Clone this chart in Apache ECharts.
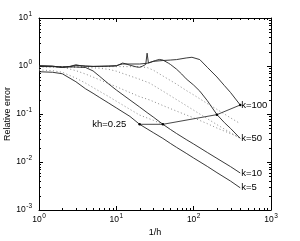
<!DOCTYPE html>
<html><head><meta charset="utf-8">
<script src="https://cdn.jsdelivr.net/npm/echarts@6/dist/echarts.min.js"></script>
<style>html,body{margin:0;padding:0;background:#fff}#c{width:300px;height:241px}</style>
</head><body><div id="c"></div>
<script>
// ---- tick labels (exponents of 10) ----
const xTickExps = [0, 1, 2, 3];
const yTickExps = [-3, -2, -1, 0, 1];
const minorMantissas = [2, 3, 4, 5, 6, 7, 8, 9];
const xMinorDecades = [1, 10, 100];
const yMinorDecades = [0.001, 0.01, 0.1, 1];

// ---- solid curves ----
const k5X  = [1, 1.5, 2, 3, 4, 5, 6, 8, 10, 15, 20, 25, 30, 40, 50, 60, 80, 100, 150, 200, 300, 400];
const k5Y  = [0.76, 0.74, 0.69, 0.47, 0.335, 0.27, 0.224, 0.168, 0.134, 0.089, 0.061, 0.049, 0.041, 0.031, 0.0244, 0.0202, 0.0152, 0.0121, 0.0081, 0.006, 0.004, 0.0029];
const k10X = [1, 1.5, 2, 3, 4, 5, 6, 8, 10, 15, 20, 25, 30, 40, 50, 60, 80, 100, 150, 200, 300, 400];
const k10Y = [0.976, 0.97, 0.962, 0.953, 0.93, 0.79, 0.62, 0.42, 0.316, 0.196, 0.14, 0.107, 0.0866, 0.061, 0.0477, 0.0393, 0.0294, 0.0237, 0.0158, 0.0119, 0.008, 0.0059];
const k50X = [1, 1.5, 1.8, 2, 2.5, 3, 3.5, 4, 5, 6, 8, 10, 12, 13, 15, 18, 20, 22, 24, 25, 26, 28, 32, 36, 40, 47, 50, 60, 70, 80, 100, 120, 150, 200, 250, 300, 400];
const k50Y = [1.02, 1.0, 0.95, 0.93, 0.98, 1.06, 1.01, 0.99, 0.98, 0.98, 0.99, 1.0, 1.15, 1.12, 1.04, 0.96, 0.94, 1.0, 1.08, 1.85, 1.15, 1.2, 1.3, 1.37, 1.33, 1.15, 1.08, 0.86, 0.68, 0.54, 0.4, 0.3, 0.19, 0.097, 0.066, 0.05, 0.031];
const k100X = [1, 1.5, 2, 2.5, 3, 4, 5, 6, 8, 10, 12, 15, 20, 25, 30, 40, 50, 60, 80, 95, 120, 150, 200, 250, 300, 400];
const k100Y = [1.0, 0.98, 0.94, 0.97, 1.03, 1.0, 0.98, 0.99, 1.0, 1.02, 1.1, 1.1, 1.1, 1.14, 1.25, 1.3, 1.33, 1.36, 1.47, 1.52, 1.36, 0.94, 0.59, 0.39, 0.28, 0.154];

// ---- kh = 0.25 line ----
const khX = [20, 40, 200, 400];
const khY = [0.061, 0.061, 0.097, 0.154];

// ---- dotted curves ----
const d1X = [1, 1.5, 2, 3, 4, 6, 8, 10, 15, 20, 30, 40];
const d1Y = [0.83, 0.8, 0.74, 0.56, 0.44, 0.3, 0.23, 0.185, 0.125, 0.095, 0.074, 0.061];
const d2X = [1, 2, 3, 4, 6, 10, 15, 20, 27, 40, 60, 100, 150, 200, 300, 400];
const d2Y = [0.97, 0.95, 0.8, 0.68, 0.52, 0.37, 0.28, 0.23, 0.196, 0.15, 0.115, 0.083, 0.063, 0.051, 0.039, 0.032];
const d3X = [1, 2, 4, 6, 8, 10, 15, 20, 27, 40, 60, 100, 200, 400];
const d3Y = [0.97, 0.95, 0.93, 0.9, 0.85, 0.78, 0.62, 0.53, 0.44, 0.3, 0.2, 0.12, 0.06, 0.031];
const d4X = [1, 5, 10, 15, 20, 25, 30, 40, 50, 60, 80, 100, 150, 200, 300, 400];
const d4Y = [0.97, 0.97, 0.97, 0.97, 0.96, 0.93, 0.82, 0.62, 0.5, 0.42, 0.31, 0.25, 0.165, 0.125, 0.083, 0.063];

const labels = {k5: 'k=5', k10: 'k=10', k50: 'k=50', k100: 'k=100', kh: 'kh=0.25'};

const FONT = 'Liberation Sans, Arial, Helvetica, sans-serif';
const zip = (xs, ys) => xs.map((x, i) => [x, ys[i]]);
const X_MIN = Math.pow(10, xTickExps[0]), X_MAX = Math.pow(10, xTickExps[xTickExps.length - 1]);
const Y_MIN = Math.pow(10, yTickExps[0]), Y_MAX = Math.pow(10, yTickExps[yTickExps.length - 1]);

const minorX = [], minorY = [];
xMinorDecades.forEach(d => minorMantissas.forEach(m => minorX.push([m * d, 1])));
yMinorDecades.forEach(d => minorMantissas.forEach(m => minorY.push([1, m * d])));

const richLbl = {
  b: {fontSize: 8.5, fontFamily: FONT, color: '#000', lineHeight: 10},
  s: {fontSize: 6.5, fontFamily: FONT, color: '#000', lineHeight: 7, padding: [0, 0, 7, 0.5]}
};
const fmt = v => '{b|10}{s|' + Math.round(Math.log10(v)) + '}';

const solid = (name, xs, ys, lbl) => ({
  type: 'line', name, data: zip(xs, ys), showSymbol: false, symbol: 'none', smooth: false,
  lineStyle: {color: '#222', width: 0.9}, silent: true,
  endLabel: {show: true, formatter: lbl, fontSize: 9.5, fontFamily: FONT, color: '#000', distance: 1}
});
const dotted = (name, xs, ys) => ({
  type: 'line', name, data: zip(xs, ys), showSymbol: false, symbol: 'none',
  lineStyle: {color: '#888', width: 1, type: [1, 2.5]}, silent: true
});
const tickLine = (x1, y1, x2, y2) => ({type: 'line', shape: {x1, y1, x2, y2}, style: {stroke: '#000', lineWidth: 1}});

const option = {
  animation: false,
  backgroundColor: '#fff',
  grid: {left: 39, right: 29, top: 18, bottom: 31, containLabel: false, outerBoundsMode: 'none'},
  xAxis: [
    {type: 'log', logBase: 10, min: X_MIN, max: X_MAX, position: 'bottom',
     name: '1/h', nameLocation: 'middle', nameGap: 18, nameMoveOverlap: false,
     nameTextStyle: {fontSize: 9, fontFamily: FONT, color: '#000'},
     axisLine: {show: true, lineStyle: {color: '#000', width: 1}},
     axisTick: {show: true, inside: true, length: 4, lineStyle: {color: '#000'}},
     axisLabel: {formatter: fmt, rich: richLbl, margin: 5},
     splitLine: {show: false}},
    {type: 'log', logBase: 10, min: X_MIN, max: X_MAX, position: 'top',
     axisLine: {show: true, lineStyle: {color: '#000', width: 1}},
     axisTick: {show: true, inside: true, length: 4, lineStyle: {color: '#000'}},
     axisLabel: {show: false}, splitLine: {show: false}}
  ],
  yAxis: [
    {type: 'log', logBase: 10, min: Y_MIN, max: Y_MAX, position: 'left',
     name: 'Relative error', nameLocation: 'middle', nameGap: 27, nameMoveOverlap: false,
     nameTextStyle: {fontSize: 9, fontFamily: FONT, color: '#000'},
     axisLine: {show: true, lineStyle: {color: '#000', width: 1}},
     axisTick: {show: true, inside: true, length: 4, lineStyle: {color: '#000'}},
     axisLabel: {formatter: fmt, rich: richLbl, margin: 7},
     splitLine: {show: false}},
    {type: 'log', logBase: 10, min: Y_MIN, max: Y_MAX, position: 'right',
     axisLine: {show: true, lineStyle: {color: '#000', width: 1}},
     axisTick: {show: true, inside: true, length: 4, lineStyle: {color: '#000'}},
     axisLabel: {show: false}, splitLine: {show: false}}
  ],
  series: [
    dotted('d1', d1X, d1Y), dotted('d2', d2X, d2Y), dotted('d3', d3X, d3Y), dotted('d4', d4X, d4Y),
    solid('k5', k5X, k5Y, labels.k5),
    solid('k10', k10X, k10Y, labels.k10),
    solid('k50', k50X, k50Y, labels.k50),
    solid('k100', k100X, k100Y, labels.k100),
    {type: 'line', name: 'kh', showSymbol: true, symbol: 'circle', symbolSize: 2.5,
     itemStyle: {color: '#000'}, lineStyle: {color: '#333', width: 0.9}, silent: true,
     data: zip(khX, khY).map((p, i) => i === 0 ? {value: p, label: {show: true, position: 'left', distance: 12,
       formatter: labels.kh, fontSize: 9.5, fontFamily: FONT, color: '#000'}} : p)},
    {type: 'custom', name: 'xminor', silent: true, data: minorX, clip: false,
     renderItem: (params, api) => {
       const v = api.value(0);
       const b = api.coord([v, Y_MIN]), t = api.coord([v, Y_MAX]);
       const x = Math.round(b[0]) + 0.5;
       return {type: 'group', children: [tickLine(x, b[1], x, b[1] - 2), tickLine(x, t[1], x, t[1] + 2)]};
     }},
    {type: 'custom', name: 'yminor', silent: true, data: minorY, clip: false,
     renderItem: (params, api) => {
       const v = api.value(1);
       const l = api.coord([X_MIN, v]), r = api.coord([X_MAX, v]);
       const y = Math.round(l[1]) + 0.5;
       return {type: 'group', children: [tickLine(l[0], y, l[0] + 2, y), tickLine(r[0], y, r[0] - 2, y)]};
     }}
  ]
};
echarts.init(document.getElementById('c'), null, {renderer: 'canvas'}).setOption(option);
</script></body></html>
